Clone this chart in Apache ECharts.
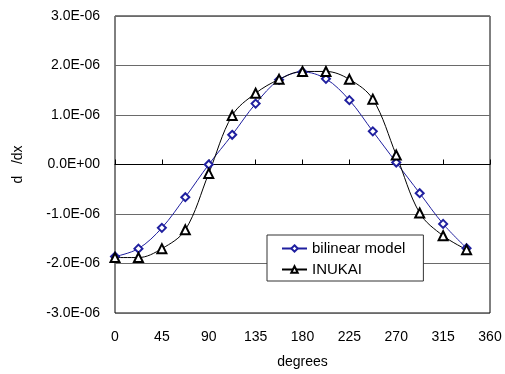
<!DOCTYPE html>
<html>
<head>
<meta charset="utf-8">
<script src="https://cdn.jsdelivr.net/npm/echarts@6/dist/echarts.min.js"></script>
<style>html,body{margin:0;padding:0;background:#fff;}#c{width:505px;height:374px;}</style>
</head>
<body>
<div id="c"></div>
<script>
const degrees = [0, 22.5, 45, 67.5, 90, 112.5, 135, 157.5, 180, 202.5, 225, 247.5, 270, 292.5, 315, 337.5];
const bilinear = [-1.86e-6, -1.70e-6, -1.28e-6, -0.66e-6, 0.00e-6, 0.60e-6, 1.23e-6, 1.71e-6, 1.87e-6, 1.73e-6, 1.30e-6, 0.67e-6, 0.04e-6, -0.58e-6, -1.20e-6, -1.69e-6];
const inukai = [-1.88e-6, -1.88e-6, -1.70e-6, -1.32e-6, -0.18e-6, 0.99e-6, 1.44e-6, 1.72e-6, 1.88e-6, 1.88e-6, 1.72e-6, 1.32e-6, 0.19e-6, -0.98e-6, -1.44e-6, -1.72e-6];
const yTickLabels = ['-3.0E-06', '-2.0E-06', '-1.0E-06', '0.0E+00', '1.0E-06', '2.0E-06', '3.0E-06'];
const xTickLabels = ['0', '45', '90', '135', '180', '225', '270', '315', '360'];

const font = 'Liberation Sans, Arial, sans-serif';
const chart = echarts.init(document.getElementById('c'), null, {renderer: 'canvas'});
chart.setOption({
  animation: false,
  backgroundColor: '#fff',
  grid: {left: 115, right: 15, top: 16, bottom: 59, show: true, borderColor: '#000', borderWidth: 1, backgroundColor: 'transparent'},
  xAxis: [
    {type: 'value', min: 0, max: 360, interval: 45,
     axisLine: {show: true, onZero: true, lineStyle: {color: '#000', width: 1}},
     axisTick: {show: true, inside: true, length: 5, lineStyle: {color: '#000'}},
     axisLabel: {show: false}, splitLine: {show: false}},
    {type: 'value', min: 0, max: 360, interval: 45, position: 'bottom',
     axisLine: {show: false, onZero: false}, axisTick: {show: false},
     axisLabel: {show: true, margin: 17, color: '#000', fontFamily: font, fontSize: 14,
       formatter: v => xTickLabels[Math.round(v / 45)]},
     splitLine: {show: false},
     name: 'degrees', nameLocation: 'middle', nameGap: 42,
     nameTextStyle: {color: '#000', fontFamily: font, fontSize: 14}}
  ],
  yAxis: {type: 'value', min: -3e-6, max: 3e-6, interval: 1e-6,
    axisLine: {show: false}, axisTick: {show: false},
    axisLabel: {margin: 15, color: '#000', fontFamily: font, fontSize: 14,
      formatter: v => yTickLabels[Math.round(v / 1e-6) + 3]},
    splitLine: {show: true, lineStyle: {color: '#6a6a6a', width: 1}},
    name: 'd   /dx', nameLocation: 'middle', nameGap: 90, nameRotate: 90,
    nameTextStyle: {color: '#000', fontFamily: font, fontSize: 14}},
  legend: {
    orient: 'vertical', left: 267, top: 235,
    padding: [6, 18, 4, 14], itemGap: 6, itemWidth: 25, itemHeight: 8,
    backgroundColor: '#fff', borderColor: '#333', borderWidth: 1,
    textStyle: {color: '#000', fontFamily: font, fontSize: 15, lineHeight: 15},
    data: ['bilinear model', 'INUKAI']
  },
  series: [
    {name: 'bilinear model', type: 'line', xAxisIndex: 0, smooth: 0.35,
     data: degrees.map((d, i) => [d, bilinear[i]]),
     symbol: 'emptyDiamond', symbolSize: 8,
     lineStyle: {color: '#1f1f9f', width: 1},
     itemStyle: {color: '#1f1f9f', borderWidth: 1}},
    {name: 'INUKAI', type: 'line', xAxisIndex: 0, smooth: 0.35,
     data: degrees.map((d, i) => [d, inukai[i]]),
     symbol: 'emptyTriangle', symbolSize: 9,
     lineStyle: {color: '#000', width: 1},
     itemStyle: {color: '#000', borderWidth: 1}}
  ]
});
</script>
</body>
</html>
